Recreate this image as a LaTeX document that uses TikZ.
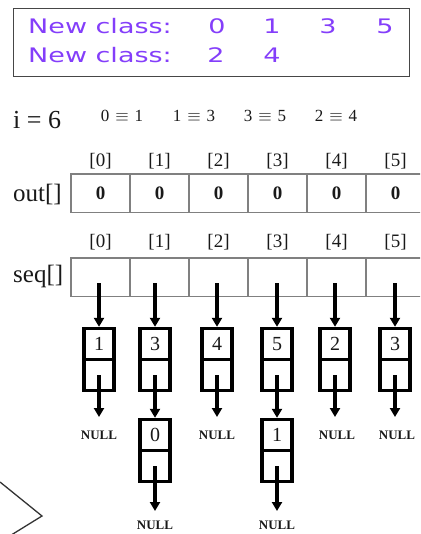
\documentclass[tikz,border=0pt]{standalone}
\usepackage{fontspec}
\setmainfont{Liberation Serif}
\newfontfamily\uisans{DejaVu Sans}
\usetikzlibrary{arrows.meta}

\definecolor{classviolet}{RGB}{132,62,250}
\definecolor{gridgray}{RGB}{128,128,128}
\definecolor{framegray}{RGB}{70,70,70}
\definecolor{inkdark}{RGB}{25,25,25}

\newcommand{\widetext}[1]{\scalebox{1.35}[1]{#1}}

\begin{document}
\begin{tikzpicture}[x=1pt,y=-1pt,
  cls/.style={font=\uisans\fontsize{20}{20}\selectfont, text=classviolet, anchor=base, inner sep=0pt},
  bigname/.style={font=\fontsize{25}{25}\selectfont, text=inkdark, anchor=base west, inner sep=0pt},
  eqv/.style={font=\fontsize{17}{17}\selectfont, text=inkdark, anchor=base, inner sep=0pt},
  idx/.style={font=\fontsize{19}{19}\selectfont, text=inkdark, inner sep=0pt},
  cell/.style={draw=gridgray, line width=1.5pt, minimum width=59, minimum height=38.5,
               inner sep=0pt, font=\bfseries\fontsize{19}{19}\selectfont, text=inkdark},
  lnk/.style={draw=black, line width=3.4pt, minimum width=30, minimum height=31,
              inner sep=0pt, font=\fontsize{20}{20}\selectfont, text=inkdark},
  ptr/.style={line width=3.4pt, -{Triangle[length=9pt,width=10pt]}},
  nullname/.style={font=\bfseries\fontsize{13}{13}\selectfont, text=inkdark, inner sep=0pt},
]
\useasboundingbox (0,0) rectangle (420,534);
\clip (0,0) rectangle (420,534);

% class summary frame
\node[draw=framegray, line width=1.3pt, minimum width=396, minimum height=68,
      anchor=north west, inner sep=0pt] (frame) at (13,8) {};
\node[cls, anchor=base west] (cla) at (28,34) {\widetext{New class:}};
\node[cls] (ca0) at (217,34) {\widetext{0}};
\node[cls] (ca1) at (272,34) {\widetext{1}};
\node[cls] (ca3) at (328,34) {\widetext{3}};
\node[cls] (ca5) at (385,34) {\widetext{5}};
\node[cls, anchor=base west] (clb) at (28,63) {\widetext{New class:}};
\node[cls] (cb2) at (216,63) {\widetext{2}};
\node[cls] (cb4) at (272,63) {\widetext{4}};

% step and equivalence pairs
\node[bigname, font=\fontsize{26}{26}\selectfont] (step) at (13,129) {i = 6};
\node[eqv] (e01) at (122,122) {0\hspace{6pt}$\equiv$\hspace{6pt}1};
\node[eqv] (e13) at (194,122) {1\hspace{6pt}$\equiv$\hspace{6pt}3};
\node[eqv] (e35) at (265,122) {3\hspace{6pt}$\equiv$\hspace{6pt}5};
\node[eqv] (e24) at (336,122) {2\hspace{6pt}$\equiv$\hspace{6pt}4};

% out[] array
\node[bigname] (outname) at (13,202) {out[]};
\foreach \k in {0,...,5} {
  \node[idx] (oi\k) at ({100.5+59*\k},161) {[\k]};
  \node[cell] (o\k) at ({100.5+59*\k},193.5) {0};
}

% seq[] array
\node[bigname] (seqname) at (13,282) {seq[]};
\foreach \k in {0,...,5} {
  \node[idx] (si\k) at ({100.5+59*\k},242) {[\k]};
  \node[cell] (s\k) at ({100.5+59*\k},277) {};
}

% list heads
\foreach \k/\x/\v in {0/99/1, 1/155/3, 2/217/4, 3/277/5, 4/335/2, 5/395/3} {
  \coordinate (p\k) at (\x,283);
  \node[lnk] (n\k a) at (\x,344) {\v};
  \node[lnk] (n\k b) at (\x,375) {};
  \draw[ptr] (p\k) -- (n\k a.north);
}

% lists ending right after the head
\foreach \k/\x in {0/99, 2/217, 4/337, 5/397} {
  \coordinate (t\k) at (\x,417);
  \node[nullname] (z\k) at (\x,435) {NULL};
}
\foreach \k in {0,2,4,5} {
  \draw[ptr] (n\k b.center) -- (n\k b.center |- t\k);
}

% lists with a second element
\foreach \k/\x/\v in {1/155/0, 3/277/1} {
  \node[lnk] (n\k c) at (\x,435) {\v};
  \node[lnk] (n\k d) at (\x,466) {};
  \draw[ptr] (n\k b.center) -- (n\k c.north);
  \coordinate (u\k) at (\x,511);
  \draw[ptr] (n\k d.center) -- (u\k);
  \node[nullname] (w\k) at (\x,525) {NULL};
}

% partial outline at the lower left
\draw[line width=1.3pt, black!80] (0,482) -- (42,516) -- (8,537);
\end{tikzpicture}
\end{document}
